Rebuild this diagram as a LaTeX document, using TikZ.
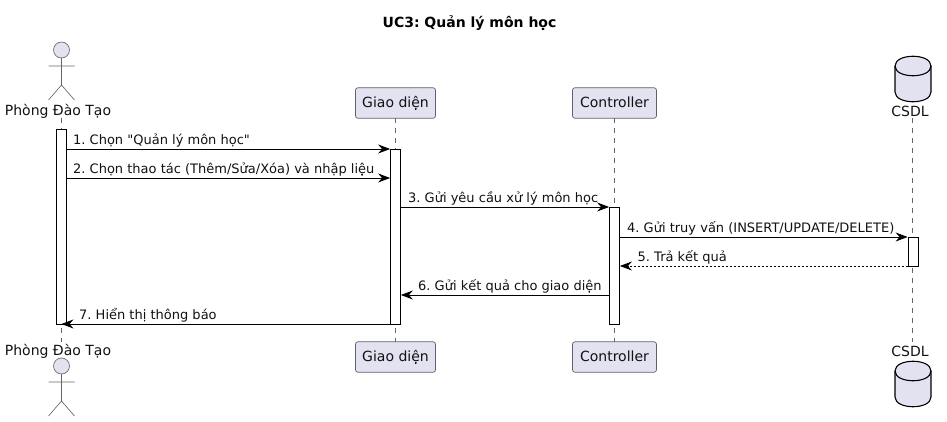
\documentclass[tikz,border=0pt]{standalone}
\usepackage{fontspec}
\usetikzlibrary{arrows.meta}
\setmainfont{DejaVu Sans}
\newfontfamily\plainfont{DejaVu Sans}
\definecolor{pfill}{HTML}{E2E2F0}
\definecolor{pline}{HTML}{60606C}
\definecolor{txt}{HTML}{111111}
\newcommand{\actorfig}[2]{%
  \draw[actorline,fill=pfill] (#1,#2) circle (8);
  \draw[actorline] (#1,#2+8) -- (#1,#2+35) (#1-13,#2+16) -- (#1+13,#2+16)
    (#1-13,#2+50) -- (#1,#2+35) -- (#1+13,#2+50);
}
\newcommand{\dbfig}[2]{%
  \draw[dbline,fill=pfill] (#1-18,#2+10) .. controls (#1-18,#2-3) and (#1+18,#2-3) .. (#1+18,#2+10)
    -- (#1+18,#2+36) .. controls (#1+18,#2+49) and (#1-18,#2+49) .. (#1-18,#2+36) -- cycle;
  \draw[dbline] (#1-18,#2+10) .. controls (#1-18,#2+23) and (#1+18,#2+23) .. (#1+18,#2+10);
}
\tikzset{
  x=1pt,y=-1pt,
  actorline/.style={draw=black!60,line width=.65pt},
  dbline/.style={draw=black,line width=1.1pt},
  lifeline/.style={draw=black!60,line width=.55pt,dash pattern=on 5pt off 5pt},
  bar/.style={draw=black,fill=white,line width=.8pt,inner sep=0pt,minimum width=10pt},
  pbox/.style={draw=pline,fill=pfill,rounded corners=2.5pt,line width=.7pt,minimum height=30.5pt,inner xsep=0pt,font=\fontsize{14}{16}\selectfont,text=txt,anchor=center,text depth=.25ex},
  lbl/.style={font=\fontsize{14}{16}\selectfont,text=txt,inner sep=0pt},
  msg/.style={font=\fontsize{13}{15}\selectfont,text=txt,inner sep=0pt,anchor=base west},
  arr/.style={draw=black,line width=.8pt,-{Stealth[length=12pt,width=9pt,inset=4pt]}},
}
\begin{document}
\begin{tikzpicture}
\frenchspacing
\useasboundingbox (0,0) rectangle (947,422);
\node[font=\bfseries\fontsize{14}{16}\selectfont,text=black,inner sep=0pt] (title) at (469.5,23) {UC3: Quản lý môn học};
% lifelines
\coordinate (a1) at (61.5,118); \coordinate (a2) at (61.5,342);
\coordinate (g1) at (395.5,118); \coordinate (g2) at (395.5,342);
\coordinate (c1) at (614.5,118); \coordinate (c2) at (614.5,342);
\coordinate (d1) at (912.5,118); \coordinate (d2) at (912.5,342);
\draw[lifeline] (a1) -- (a2);
\draw[lifeline] (g1) -- (g2);
\draw[lifeline] (c1) -- (c2);
\draw[lifeline] (d1) -- (d2);
% activations
\node[bar,minimum height=195pt] (ba) at (61.5,226.5) {};
\node[bar,minimum height=175pt] (bg) at (395.5,236.5) {};
\node[bar,minimum height=117pt] (bc) at (614.5,265.5) {};
\node[bar,minimum height=29pt] (bd) at (913,251.5) {};
% participants
\actorfig{61.5}{50}
\node[lbl] (atop) at (58,111) {Phòng Đào Tạo};
\node[pbox,minimum width=80pt] (gtop) at (395.5,103) {Giao diện};
\node[pbox,minimum width=84pt] (ctop) at (614.5,103) {Controller};
\dbfig{913}{56}
\node[lbl] (dtop) at (910,111) {CSDL};
\node[lbl] (abot) at (58,351) {Phòng Đào Tạo};
\actorfig{61.5}{366}
\node[pbox,minimum width=80pt] (gbot) at (395.5,357) {Giao diện};
\node[pbox,minimum width=84pt] (cbot) at (614.5,357) {Controller};
\node[lbl] (dbot) at (910,351) {CSDL};
\dbfig{913}{361}
% message rows
\coordinate (y1) at (0,149);
\coordinate (y2) at (0,178);
\coordinate (y3) at (0,207);
\coordinate (y4) at (0,237);
\coordinate (y5) at (0,266);
\coordinate (y6) at (0,295);
\coordinate (y7) at (0,324);
\draw[arr] (ba.east |- y1) -- (bg.west |- y1);
\node[msg] (t1) at (73,145) {1. Chọn {\plainfont"}Quản lý môn học{\plainfont"}};
\draw[arr] (ba.east |- y2) -- (bg.west |- y2);
\node[msg] (t2) at (73,174) {2. Chọn thao tác (Thêm/Sửa/Xóa) và nhập liệu};
\draw[arr] (bg.east |- y3) -- (bc.west |- y3);
\node[msg] (t3) at (408,203) {3. Gửi yêu cầu xử lý môn học};
\draw[arr] (bc.east |- y4) -- (bd.west |- y4);
\node[msg] (t4) at (627,232.5) {4. Gửi truy vấn (INSERT/UPDATE/DELETE)};
\draw[arr,dash pattern=on 2pt off 2pt] (bd.west |- y5) -- (bc.east |- y5);
\node[msg] (t5) at (637.5,261.5) {5. Trả kết quả};
\draw[arr] (bc.west |- y6) -- (bg.east |- y6);
\node[msg] (t6) at (418,290.5) {6. Gửi kết quả cho giao diện};
\draw[arr] (bg.west |- y7) -- (a1 |- y7);
\node[msg] (t7) at (79,319.5) {7. Hiển thị thông báo};
\end{tikzpicture}
\end{document}
